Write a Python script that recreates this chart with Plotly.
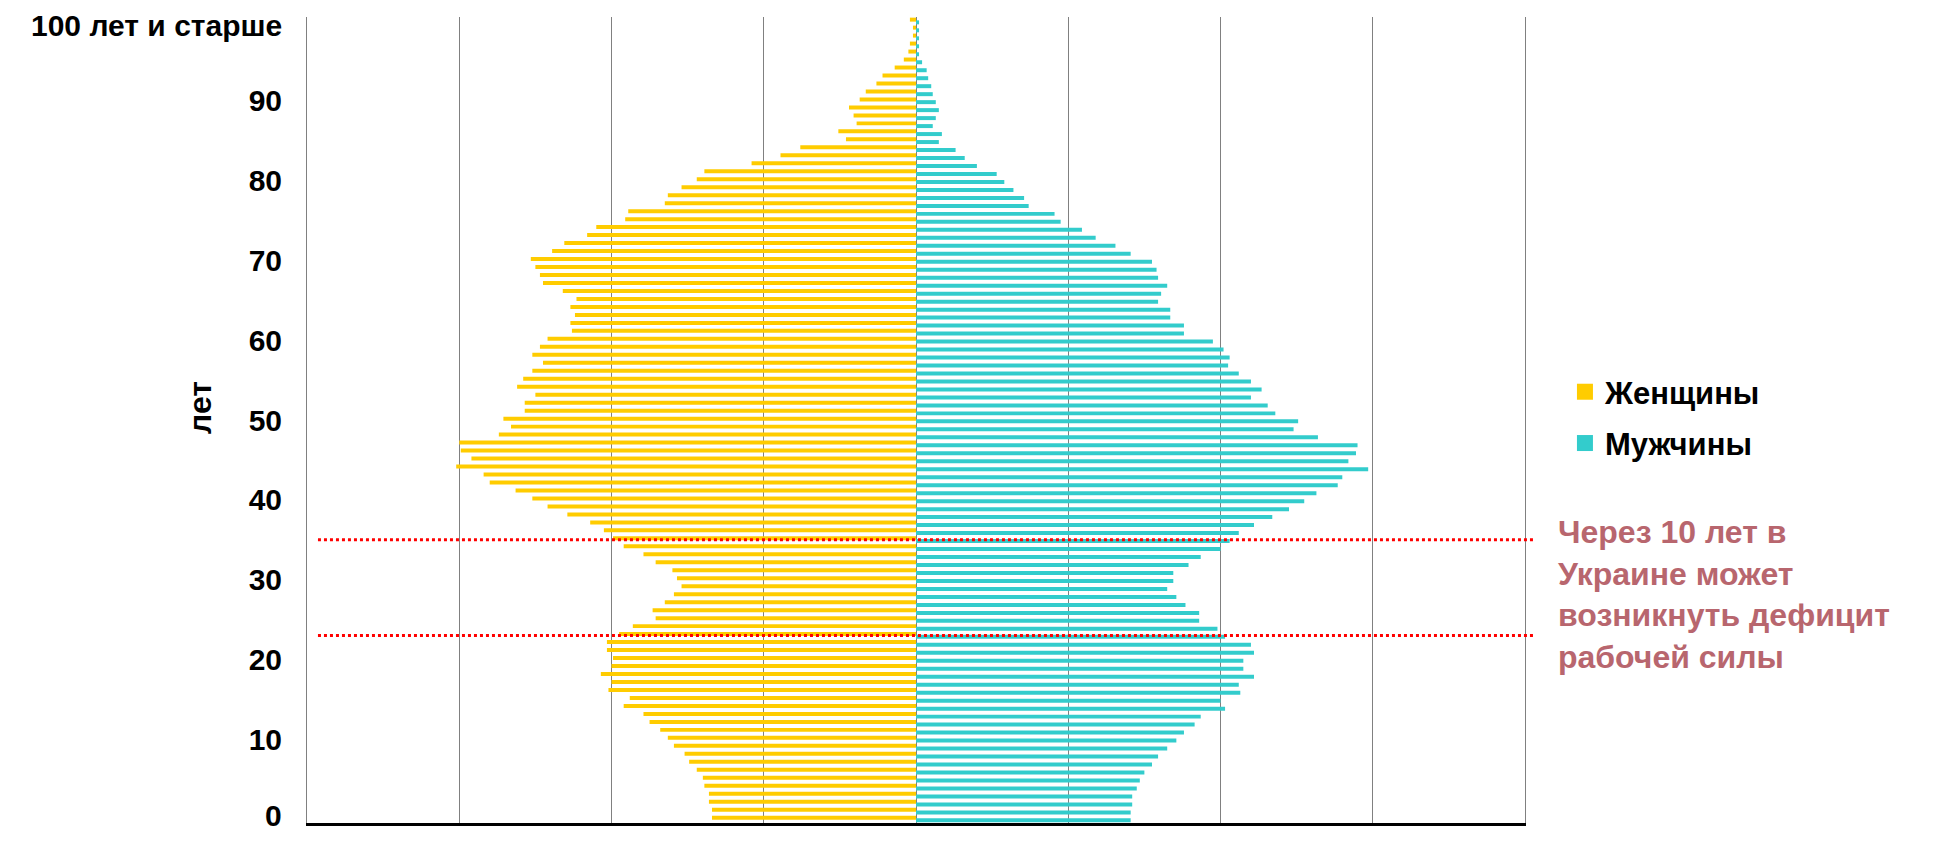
import plotly.graph_objects as go

# Ages 0..100 ("100 лет и старше" = 100+)
ages = list(range(0, 101))

# Population by single year of age, thousands
women = [
    134, 134, 136, 136, 139, 140, 144, 149, 152, 159,
    163, 168, 175, 179, 192, 188, 202, 200, 207, 200,
    199, 203, 203, 195, 186, 171, 173, 165, 159, 154,
    157, 160, 171, 179, 192, 199, 205, 214, 229, 242,
    252, 263, 280, 284, 302, 292, 299, 300, 274, 266,
    271, 257, 257, 250, 262, 258, 252, 245, 252, 247,
    242, 226, 227, 224, 227, 223, 232, 245, 247, 250,
    253, 239, 231, 216, 210, 191, 189, 165, 163, 154,
    144, 139, 108, 89, 76, 46, 51, 39, 41, 44,
    37, 33, 26, 22, 14, 8, 5, 4, 2, 2,
    4,
]
men = [
    141, 141, 142, 142, 145, 147, 150, 155, 159, 165,
    171, 176, 183, 187, 203, 200, 213, 212, 222, 215,
    215, 222, 220, 203, 198, 186, 186, 177, 171, 165,
    169, 169, 179, 187, 200, 206, 212, 222, 234, 245,
    255, 263, 277, 280, 297, 284, 289, 290, 264, 248,
    251, 236, 231, 220, 227, 220, 212, 205, 206, 202,
    195, 176, 176, 167, 167, 159, 161, 165, 159, 158,
    155, 141, 131, 118, 109, 95, 91, 74, 71, 64,
    58, 53, 40, 32, 26, 15, 17, 11, 13, 15,
    13, 11, 10, 8, 7, 4, 2, 2, 2, 2,
    2,
]

# inner ticks on the axis; the two end labels are placed as edge-safe text
tick_vals = [10, 20, 30, 40, 50, 60, 70, 80, 90]
tick_text = ["10", "20", "30", "40", "50", "60", "70", "80", "90"]
bottom_label = "0"
top_label = "100 лет и старше"
marked_ages = [35, 23]

series_names = ["Женщины", "Мужчины"]
colors = ["#FFCC00", "#33CCCC"]

annotation_text = "Через 10 лет в<br>Украине может<br>возникнуть дефицит<br>рабочей силы"

FONT = "Liberation Sans, Arial, sans-serif"
TICKFONT = dict(family=FONT, size=30, color="#000000", weight="bold")

fig = go.Figure()

# Legend proxies (square swatches)
for name, col, grp in zip(series_names, colors, ["w", "m"]):
    fig.add_trace(go.Scatter(
        x=[None], y=[None], mode="markers", name=name, legendgroup=grp,
        marker=dict(symbol="square", size=20, color=col),
        showlegend=True, hoverinfo="skip",
    ))

fig.add_trace(go.Bar(
    y=ages, x=[-v for v in women], orientation="h", name=series_names[0],
    legendgroup="w", showlegend=False, marker=dict(color=colors[0], line=dict(width=0)),
    width=0.5, offset=-0.08, customdata=women,
    hovertemplate="Возраст %{y}: %{customdata} тыс.<extra>Женщины</extra>",
))
fig.add_trace(go.Bar(
    y=ages, x=men, orientation="h", name=series_names[1],
    legendgroup="m", showlegend=False, marker=dict(color=colors[1], line=dict(width=0)),
    width=0.5, offset=-0.42,
    hovertemplate="Возраст %{y}: %{x} тыс.<extra>Мужчины</extra>",
))

for a in marked_ages:
    fig.add_shape(type="line", xref="paper", yref="y", x0=0.009, x1=1.0066, y0=a, y1=a,
                  line=dict(color="#FF0000", width=3, dash="dot"), layer="above")

# end tick labels
fig.add_annotation(text=top_label, xref="paper", yref="paper", x=-0.0197, y=1.0112,
                   xanchor="right", yanchor="top", showarrow=False, borderpad=0,
                   font=TICKFONT)
fig.add_annotation(text=bottom_label, xref="paper", yref="paper", x=-0.0197, y=-0.0124,
                   xanchor="right", yanchor="bottom", showarrow=False, borderpad=0,
                   font=TICKFONT)

fig.add_annotation(
    text=annotation_text, xref="paper", yref="paper", x=1.0255, y=0.283,
    xanchor="left", yanchor="middle", align="left", showarrow=False,
    font=dict(family=FONT, size=32, color="#B8666E", weight="bold"),
)
fig.add_annotation(
    text="лет", xref="paper", yref="paper", x=-0.0878, y=0.515, textangle=-90,
    xanchor="center", yanchor="middle", showarrow=False,
    font=dict(family=FONT, size=32, color="#000000", weight="bold"),
)

# The page body keeps an 8px margin, so the figure is sized to fit inside it
fig.update_layout(
    width=1923, height=825,
    margin=dict(l=299, r=406, t=9, b=10, autoexpand=False),
    paper_bgcolor="white", plot_bgcolor="white",
    barmode="overlay",
    font=dict(family=FONT, color="#000000"),
    legend=dict(
        x=1.0328, y=0.503, xanchor="left", yanchor="middle",
        font=dict(family=FONT, size=31, color="#000000", weight="bold"),
        traceorder="grouped", tracegroupgap=8, bgcolor="rgba(0,0,0,0)",
    ),
    xaxis=dict(
        range=[-400, 400], dtick=100, tick0=0, showticklabels=False,
        showgrid=True, gridcolor="#808080", gridwidth=1, zeroline=False,
        showline=True, linecolor="#000000", linewidth=3, ticks="", automargin=False,
    ),
    yaxis=dict(
        range=[-0.5, 100.5], tickmode="array", tickvals=tick_vals, ticktext=tick_text,
        showgrid=False, zeroline=False, showline=True, linecolor="#808080", linewidth=1,
        mirror=True, ticks="", ticklabelstandoff=18, automargin=False,
        tickfont=TICKFONT,
    ),
)

fig.write_html("out.html")
